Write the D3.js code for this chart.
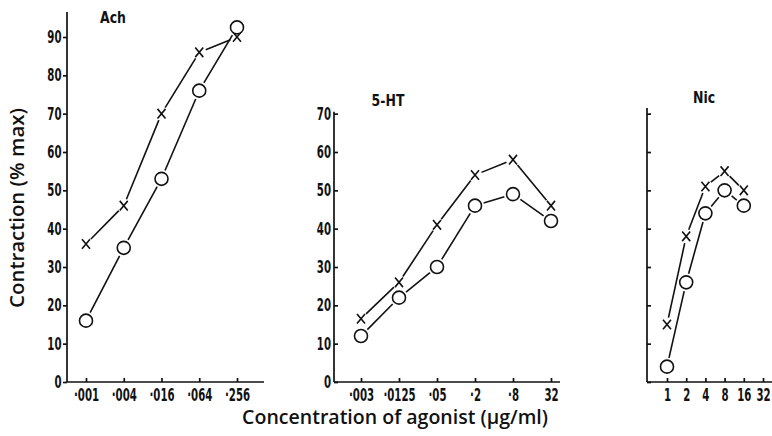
<!DOCTYPE html>
<meta charset="utf-8">
<style>
    body { margin: 0; background: #fff; }
    svg { display: block; }
    .axis path, .axis line { stroke: #111; stroke-width: 1.7; }
    .axis text { font-family: "DejaVu Sans", sans-serif; font-weight: bold; font-size: 17px; fill: #111; }
    .lab { font-family: "Open Sans", "Noto Sans", sans-serif; font-weight: 600; font-size: 18px; fill: #111; }
    .title { font-family: "DejaVu Sans", sans-serif; font-weight: bold; font-size: 16px; fill: #111; }
</style>
<body>
<div id="chart-container"></div>
<script src="https://cdnjs.cloudflare.com/ajax/libs/d3/7.8.5/d3.min.js"></script>
<script>
    // values
    var achConc = ["·001", "·004", "·016", "·064", "·256"];
    var achCross = [36, 46, 70, 86, 90];
    var achCircle = [16, 35, 53, 76, 92.5];

    var htConc = ["·003", "·0125", "·05", "·2", "·8", "32"];
    var htCross = [16.5, 26, 41, 54, 58, 46];
    var htCircle = [12, 22, 30, 46, 49, 42];

    var nicConc = ["1", "2", "4", "8", "16", "32"];
    var nicCross = [15, 38, 51, 55, 50];
    var nicCircle = [4, 26, 44, 50, 46];

    var achTicks = [0, 10, 20, 30, 40, 50, 60, 70, 80, 90];
    var htTicks = [0, 10, 20, 30, 40, 50, 60, 70];

    var width = 772, height = 436;
    var narrow = 0.6; // the printed figure uses a very condensed face
    var svg = d3.select("#chart-container").append("svg")
        .attr("width", width).attr("height", height);

    // shared vertical scale, all three panels sit on the same baseline
    var y = d3.scaleLinear().domain([0, 90]).range([382, 37]);

    var panels = [
        { name: "Ach", conc: achConc, cross: achCross, circle: achCircle, x0: 67, range: [86, 237], xEnd: 264, top: 96.5, ticks: achTicks, labels: true, tick: 4, pad: 1.5, tx: 113, ty: 23 },
        { name: "5-HT", conc: htConc, cross: htCross, circle: htCircle, x0: 334, range: [361, 551], xEnd: 560, top: 70.5, ticks: htTicks, labels: true, tick: -4, pad: 3, tx: 388, ty: 106 },
        { name: "Nic", conc: nicConc, cross: nicCross, circle: nicCircle, x0: 647, range: [667, 763], xEnd: 772, top: 71.5, ticks: htTicks, labels: false, tick: -4, pad: 3, tx: 704, ty: 103 }
    ];

    // draw a line through points, leaving a gap round each marker
    function gappedLine(g, pts, gap) {
        for (var i = 0; i < pts.length - 1; i++) {
            var a = pts[i], b = pts[i + 1];
            var dx = b[0] - a[0], dy = b[1] - a[1];
            var len = Math.sqrt(dx * dx + dy * dy);
            var ux = dx / len, uy = dy / len;
            g.append("line")
                .attr("x1", a[0] + ux * gap).attr("y1", a[1] + uy * gap)
                .attr("x2", b[0] - ux * gap).attr("y2", b[1] - uy * gap)
                .attr("stroke", "#111").attr("stroke-width", 1.6);
        }
    }

    panels.forEach(function(p) {
        var g = svg.append("g");
        var x = d3.scalePoint().domain(p.conc).range(p.range);

        // y axis
        var yAxis = d3.axisLeft(y).tickValues(p.ticks).tickSize(p.tick).tickPadding(p.pad);
        if (!p.labels) yAxis.tickFormat("");
        var gy = g.append("g").attr("class", "axis").attr("transform", "translate(" + p.x0 + ",0)").call(yAxis);
        gy.select(".domain").remove();
        gy.selectAll(".tick text")
            .attr("x", -(Math.max(p.tick, 0) + p.pad) / narrow)
            .attr("transform", "scale(" + narrow + ",1)");
        gy.append("line").attr("x1", 0).attr("x2", 0).attr("y1", y(0)).attr("y2", y(p.top));

        // x axis
        var xAxis = d3.axisBottom(x).tickSize(-4).tickPadding(7);
        var gx = g.append("g").attr("class", "axis").attr("transform", "translate(0," + y(0) + ")").call(xAxis);
        gx.select(".domain").remove();
        gx.selectAll(".tick text").attr("transform", "scale(" + narrow + ",1)");
        gx.append("line").attr("x1", p.x0).attr("x2", p.xEnd).attr("y1", 0).attr("y2", 0);

        g.append("text").attr("class", "title")
            .attr("transform", "translate(" + p.tx + "," + p.ty + ") scale(0.78,1)")
            .attr("text-anchor", "middle").text(p.name);

        var crossPts = p.cross.map(function(v, i) { return [x(p.conc[i]), y(v)]; });
        var circPts = p.circle.map(function(v, i) { return [x(p.conc[i]), y(v)]; });

        gappedLine(g, crossPts, 7);
        gappedLine(g, circPts, 9);

        g.selectAll(".cross").data(crossPts).enter().append("path")
            .attr("d", function(d) {
                var sx = 4, sy = 4.8;
                return "M" + (d[0] - sx) + "," + (d[1] - sy) + "L" + (d[0] + sx) + "," + (d[1] + sy) +
                    "M" + (d[0] + sx) + "," + (d[1] - sy) + "L" + (d[0] - sx) + "," + (d[1] + sy);
            })
            .attr("stroke", "#111").attr("stroke-width", 1.6).attr("fill", "none");

        g.selectAll(".circ").data(circPts).enter().append("circle")
            .attr("cx", function(d) { return d[0]; })
            .attr("cy", function(d) { return d[1]; })
            .attr("r", 6.5)
            .attr("fill", "#fff").attr("stroke", "#111").attr("stroke-width", 1.6);
    });

    // shrink/grow a label's font so it spans the same length as in the figure
    function fitText(t, target) {
        var fs = parseFloat(t.style("font-size"));
        var len = t.node().getComputedTextLength();
        t.style("font-size", (fs * target / len) + "px");
    }

    // axis titles
    var yl = svg.append("text").attr("class", "lab")
        .attr("transform", "translate(24,208) rotate(-90)")
        .attr("text-anchor", "middle")
        .text("Contraction (% max)");
    fitText(yl, 200);

    var xl = svg.append("text").attr("class", "lab")
        .attr("x", 395).attr("y", 424)
        .attr("text-anchor", "middle")
        .text("Concentration of agonist (μg/ml)");
    fitText(xl, 306);
</script>
</body>
